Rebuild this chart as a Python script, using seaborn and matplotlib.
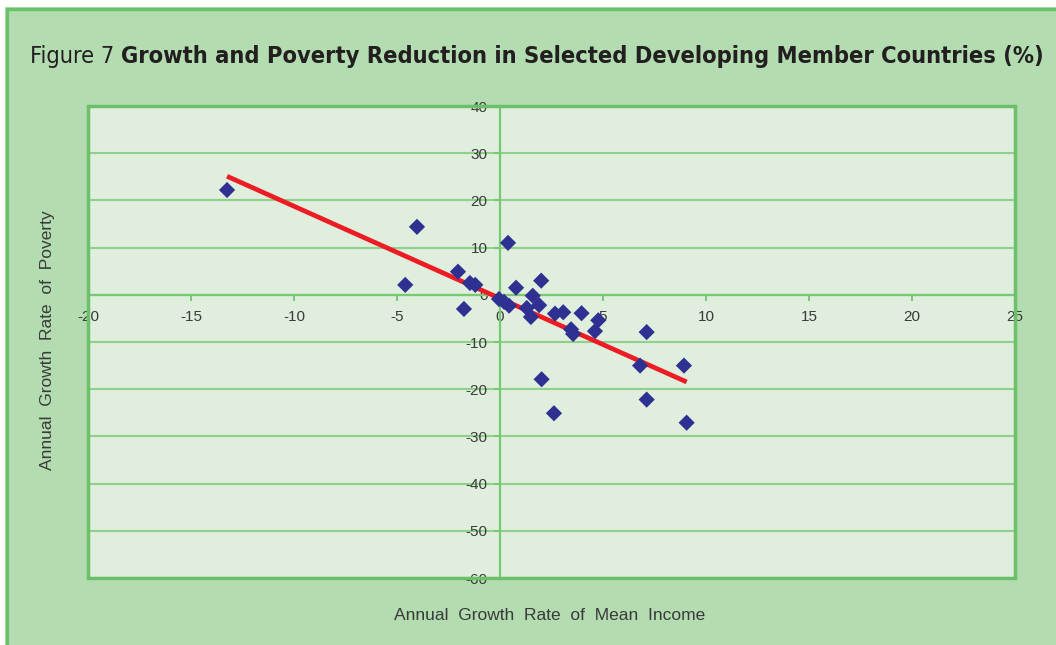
import matplotlib
matplotlib.use("Agg")
import matplotlib.pyplot as plt
from matplotlib.patches import Rectangle
from matplotlib.lines import Line2D
import seaborn as sns
import pandas as pd

# Annual growth rate of mean income (%) per country observation
income_growth = [-13.25, -4.03, -4.6, -2.04, -1.46, -1.2, -1.75, 0.39, 0.78, 2.0,
                 -0.05, 0.2, 0.44, 1.59, 1.9, 1.3, 1.5, 2.67, 3.07, 3.96,
                 3.45, 3.55, 4.77, 4.61, 7.12, 6.8, 8.93, 2.02, 7.12, 2.62, 9.06]
# Annual growth rate of poverty (%) for the same observations
poverty_growth = [22.2, 14.4, 2.1, 4.9, 2.5, 2.1, -3.0, 11.0, 1.5, 3.0,
                  -0.9, -1.5, -2.3, -0.2, -2.2, -2.8, -4.7, -4.0, -3.7, -3.9,
                  -7.3, -8.3, -5.4, -7.7, -7.9, -15.0, -15.0, -17.9, -22.2, -25.1, -27.1]

x_ticks = [-20, -15, -10, -5, 0, 5, 10, 15, 20, 25]
y_ticks = [-60, -50, -40, -30, -20, -10, 0, 10, 20, 30, 40]

title_lead = "Figure 7 "
title_main = "Growth and Poverty Reduction in Selected Developing Member Countries (%)"
x_label = "Annual  Growth  Rate  of  Mean  Income"
y_label = "Annual  Growth  Rate  of  Poverty"

PANEL = "#b3dcb0"
PLOT_BG = "#dfeedd"
BORDER = "#6cc06a"
GRID = "#8fd18a"
AXIS = "#78c874"
MARKER = "#2e3192"
TREND = "#ed1c24"
TEXT = "#3a3a3a"

sns.set_theme(style="white")
plt.rcParams['font.family'] = ['Liberation Sans', 'DejaVu Sans']
plt.rcParams['axes.unicode_minus'] = False

W, H = 1056, 645
fig = plt.figure(figsize=(W / 100, H / 100), dpi=100, facecolor="white")

# green panel with a darker rule along its top and left edges
fig.add_artist(Rectangle((5 / W, 0), 1, 1 - 7 / H, transform=fig.transFigure,
                         facecolor=PANEL, edgecolor="none", zorder=0))
fig.add_artist(Line2D([6.5 / W, 6.5 / W], [0, 1 - 7.5 / H], transform=fig.transFigure,
                      color=BORDER, lw=2.4, solid_capstyle="butt", zorder=1))
fig.add_artist(Line2D([5.5 / W, 1], [1 - 8.5 / H, 1 - 8.5 / H], transform=fig.transFigure,
                      color=BORDER, lw=2.4, solid_capstyle="butt", zorder=1))

ax = fig.add_axes([88 / W, 1 - 578 / H, (1015 - 88) / W, (578 - 106) / H])
ax.set_facecolor(PLOT_BG)

df = pd.DataFrame({"income": income_growth, "poverty": poverty_growth})
sns.regplot(data=df, x="income", y="poverty", scatter=False, ci=None, ax=ax,
            line_kws=dict(color=TREND, lw=3.4, solid_capstyle="butt", zorder=3))
sns.scatterplot(data=df, x="income", y="poverty", marker="D", s=68, color=MARKER,
                edgecolor="none", linewidth=0, ax=ax, zorder=4)

ax.set_xlim(-20, 25)
ax.set_ylim(-60, 40)
ax.set_xticks(x_ticks)
ax.set_yticks(y_ticks)
ax.set_xlabel("")
ax.set_ylabel("")
ax.grid(axis="y", color=GRID, lw=1.5)
ax.grid(axis="x", visible=False)
ax.set_axisbelow(True)

for side in ("top", "right"):
    ax.spines[side].set_visible(False)
ax.spines["left"].set_position(("data", 0))
ax.spines["bottom"].set_position(("data", 0))
for side in ("left", "bottom"):
    ax.spines[side].set_color(AXIS)
    ax.spines[side].set_linewidth(1.6)
    ax.spines[side].set_zorder(2)

ax.tick_params(axis="both", bottom=True, left=True, direction="out", length=4,
               width=1.4, color=AXIS, labelsize=11, labelcolor=TEXT)
ax.tick_params(axis="x", pad=7)
ax.tick_params(axis="y", pad=5)

# outer frame of the plotting area
ax.add_patch(Rectangle((0, 0), 1, 1, transform=ax.transAxes, fill=False,
                       edgecolor=BORDER, lw=2.5, clip_on=False, zorder=5))

fig.text(550 / W, 1 - 615 / H, x_label, ha="center", va="center",
         fontsize=12.5, color=TEXT)
fig.text(48 / W, 1 - 340 / H, y_label, ha="center", va="center", rotation=90,
         fontsize=12.5, color=TEXT)

# title: plain lead-in followed by bold heading, sized to span the panel width
title_y = 1 - 63 / H
title_left, title_right = 30, 1045
renderer = fig.canvas.get_renderer()
size = 18
t1 = fig.text(title_left / W, title_y, title_lead, fontsize=size, family="DejaVu Sans",
              fontstretch="condensed", color="#231f20", va="baseline")
t2 = fig.text(0, title_y, title_main, fontsize=size, family="DejaVu Sans",
              fontstretch="condensed", fontweight="bold", color="#231f20", va="baseline")
total = (t1.get_window_extent(renderer).width + t2.get_window_extent(renderer).width)
if total > title_right - title_left:
    size = size * (title_right - title_left) / total
    t1.set_fontsize(size)
    t2.set_fontsize(size)
bb = t1.get_window_extent(renderer)
t2.set_x(bb.x1 / W)

fig.savefig("out.png", dpi=100, facecolor=fig.get_facecolor())
